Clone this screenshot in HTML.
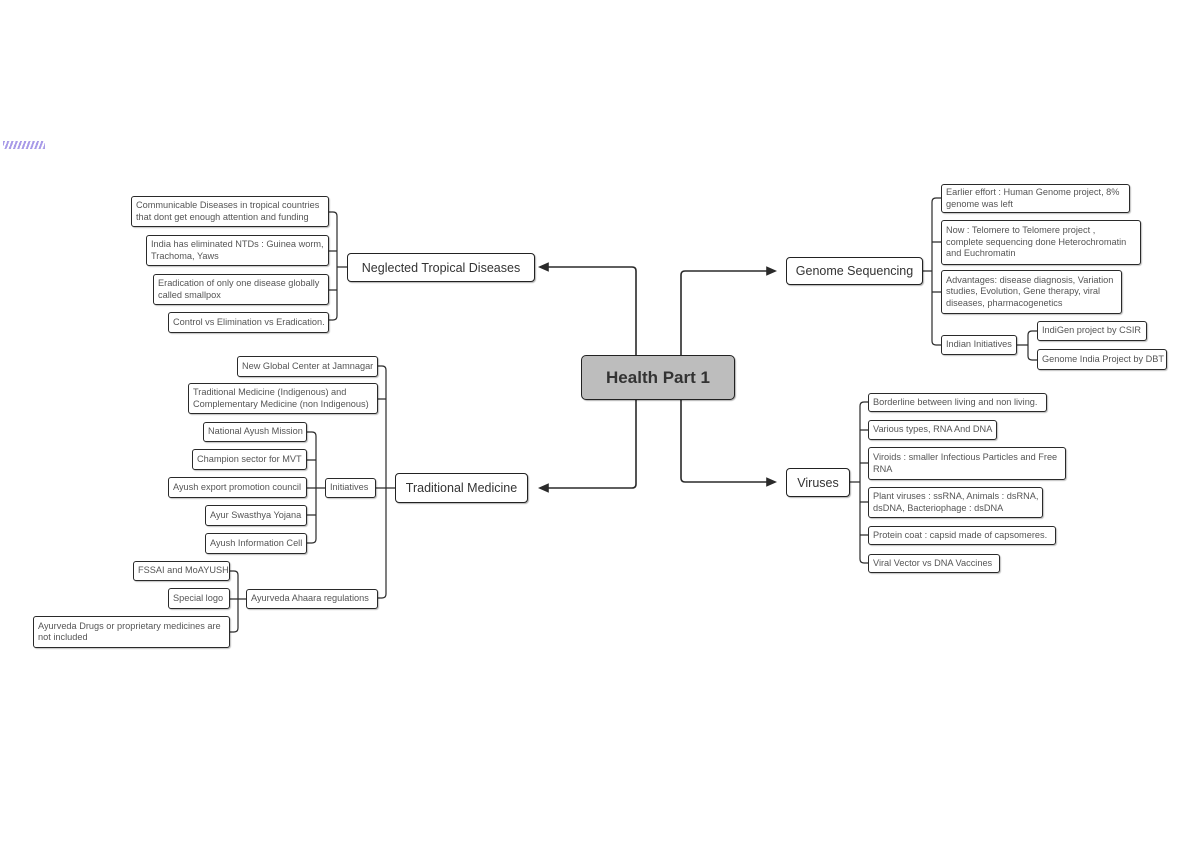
<!DOCTYPE html>
<html><head><meta charset="utf-8"><style>
html,body{margin:0;padding:0;background:#fff;}
body{width:1200px;height:849px;position:relative;overflow:hidden;font-family:"Liberation Sans",sans-serif;}
.b{position:absolute;box-sizing:border-box;border:1.3px solid #2a2a2a;border-radius:3px;background:#fff;color:#555;font-size:9.2px;line-height:11.5px;padding:3px 4px;box-shadow:1px 1px 1px rgba(0,0,0,.25);white-space:nowrap;display:flex;align-items:center;}
.m{position:absolute;box-sizing:border-box;border:1.6px solid #222;border-radius:4px;background:#fff;color:#333;font-size:12.5px;display:flex;align-items:center;justify-content:center;box-shadow:1px 1px 1px rgba(0,0,0,.3);}
svg{position:absolute;left:0;top:0;}
</style></head><body>
<div style="position:absolute;left:3px;top:141px;width:42px;height:8px;background:repeating-linear-gradient(110deg,#a99be8 0 2px,#fff 2px 4px);"></div>
<svg width="1200" height="849" fill="none" stroke="#2a2a2a" stroke-width="1.6">
<path d="M636 355 V271 q0-4 -4-4 H545"/><path d="M540 267 l8 -3.5 v7z" fill="#2a2a2a"/>
<path d="M636 400 V484 q0 4 -4 4 H545"/><path d="M540 488 l8 -3.5 v7z" fill="#2a2a2a"/>
<path d="M681 355 V275 q0-4 4-4 H770"/><path d="M775 271 l-8 -3.5 v7z" fill="#2a2a2a"/>
<path d="M681 400 V478 q0 4 4 4 H770"/><path d="M775 482 l-8 -3.5 v7z" fill="#2a2a2a"/>
<g stroke-width="1.2">
<path d="M347 267 H337 M329 212 h4 q4 0 4 4 V316 q0 4 -4 4 h-4 M329 251 h8 M329 290 h8"/>
<path d="M395 488 H386 M378 366 h4 q4 0 4 4 V594 q0 4 -4 4 h-4 M378 399 h8 M376 488 h10"/>
<path d="M325 488 H316 M307 432 h5 q4 0 4 4 V539 q0 4 -4 4 h-5 M307 460 h9 M307 488 h9 M307 515 h9"/>
<path d="M246 599 H238 M230 571 h4 q4 0 4 4 V628 q0 4 -4 4 h-4 M230 599 h8"/>
<path d="M923 271 H932 M941 198 h-5 q-4 0 -4 4 V341 q0 4 4 4 h5 M932 242 h9 M932 292 h9"/>
<path d="M1017 345 H1028 M1037 331 h-5 q-4 0 -4 4 V356 q0 4 4 4 h5"/>
<path d="M850 482 H860 M868 402 h-4 q-4 0 -4 4 V559 q0 4 4 4 h4 M860 430 h8 M860 463 h8 M860 502 h8 M860 535 h8"/>
</g></svg>
<div class="m" style="left:581px;top:355px;width:154px;height:45px;background:#bdbdbd;font-size:17px;font-weight:bold;color:#333;border-radius:5px;">Health Part 1</div>
<div class="m" style="left:347px;top:253px;width:188px;height:29px;">Neglected Tropical Diseases</div>
<div class="m" style="left:395px;top:473px;width:133px;height:30px;">Traditional Medicine</div>
<div class="m" style="left:786px;top:257px;width:137px;height:28px;">Genome Sequencing</div>
<div class="m" style="left:786px;top:468px;width:64px;height:29px;">Viruses</div>

<div class="b" style="left:131px;top:196px;width:198px;height:31px;">Communicable Diseases in tropical countries<br>that dont get enough attention and funding</div>
<div class="b" style="left:146px;top:235px;width:183px;height:31px;">India has eliminated NTDs : Guinea worm,<br>Trachoma, Yaws</div>
<div class="b" style="left:153px;top:274px;width:176px;height:31px;">Eradication of only one disease globally<br>called smallpox</div>
<div class="b" style="left:168px;top:312px;width:161px;height:21px;">Control vs Elimination vs Eradication.</div>

<div class="b" style="left:237px;top:356px;width:141px;height:21px;">New Global Center at Jamnagar</div>
<div class="b" style="left:188px;top:383px;width:190px;height:31px;">Traditional Medicine (Indigenous) and<br>Complementary Medicine (non Indigenous)</div>
<div class="b" style="left:325px;top:478px;width:51px;height:20px;">Initiatives</div>
<div class="b" style="left:246px;top:589px;width:132px;height:20px;">Ayurveda Ahaara regulations</div>
<div class="b" style="left:203px;top:422px;width:104px;height:20px;">National Ayush Mission</div>
<div class="b" style="left:192px;top:449px;width:115px;height:21px;">Champion sector for MVT</div>
<div class="b" style="left:168px;top:477px;width:139px;height:21px;">Ayush export promotion council</div>
<div class="b" style="left:205px;top:505px;width:102px;height:21px;">Ayur Swasthya Yojana</div>
<div class="b" style="left:205px;top:533px;width:102px;height:21px;">Ayush Information Cell</div>
<div class="b" style="left:133px;top:561px;width:97px;height:20px;">FSSAI and MoAYUSH</div>
<div class="b" style="left:168px;top:588px;width:62px;height:21px;">Special logo</div>
<div class="b" style="left:33px;top:616px;width:197px;height:32px;">Ayurveda Drugs or proprietary medicines are<br>not included</div>

<div class="b" style="left:941px;top:184px;width:189px;height:29px;">Earlier effort : Human Genome project, 8%<br>genome was left</div>
<div class="b" style="left:941px;top:220px;width:200px;height:45px;">Now : Telomere to Telomere project ,<br>complete sequencing done Heterochromatin<br>and Euchromatin</div>
<div class="b" style="left:941px;top:270px;width:181px;height:44px;">Advantages: disease diagnosis, Variation<br>studies, Evolution, Gene therapy, viral<br>diseases, pharmacogenetics</div>
<div class="b" style="left:941px;top:335px;width:76px;height:20px;">Indian Initiatives</div>
<div class="b" style="left:1037px;top:321px;width:110px;height:20px;">IndiGen project by CSIR</div>
<div class="b" style="left:1037px;top:349px;width:130px;height:21px;">Genome India Project by DBT</div>

<div class="b" style="left:868px;top:393px;width:179px;height:19px;">Borderline between living and non living.</div>
<div class="b" style="left:868px;top:420px;width:129px;height:20px;">Various types, RNA And DNA</div>
<div class="b" style="left:868px;top:447px;width:198px;height:33px;">Viroids : smaller Infectious Particles and Free<br>RNA</div>
<div class="b" style="left:868px;top:487px;width:175px;height:31px;">Plant viruses : ssRNA, Animals : dsRNA,<br>dsDNA, Bacteriophage : dsDNA</div>
<div class="b" style="left:868px;top:526px;width:188px;height:19px;">Protein coat : capsid made of capsomeres.</div>
<div class="b" style="left:868px;top:554px;width:132px;height:19px;">Viral Vector vs DNA Vaccines</div>
</body></html>
